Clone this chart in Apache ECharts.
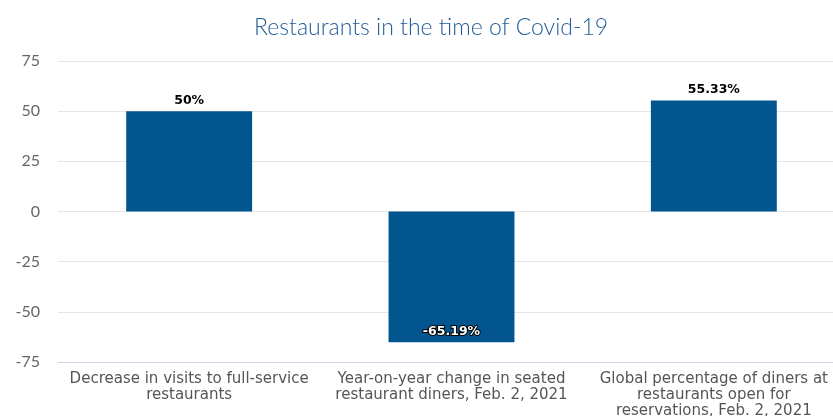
<!DOCTYPE html>
<html>
<head>
<meta charset="utf-8">
<script src="https://cdn.jsdelivr.net/npm/echarts@6/dist/echarts.min.js"></script>
<style>
  html, body { margin: 0; padding: 0; background: #fff; }
  #chart { width: 833px; height: 416px; }
</style>
</head>
<body>
<div id="chart"></div>
<script>
// 分类 (line breaks as in the picture)
var categories = [
  "Decrease in visits to full-service\nrestaurants",
  "Year-on-year change in seated\nrestaurant diners, Feb. 2, 2021",
  "Global percentage of diners at\nrestaurants open for\nreservations, Feb. 2, 2021"
];
// 数值 (%)
var values = [50, -65.19, 55.33];
var labels = ["50%", "-65.19%", "55.33%"];
var yTicks = [-75, -50, -25, 0, 25, 50, 75];

var myChart = echarts.init(document.getElementById("chart"));

var barData = values.map(function (v, i) {
  var item = { value: v };
  if (v < 0) {
    // 负数标签在柱子底部，白字黑描边
    item.label = {
      position: "insideBottom",
      distance: 4,
      color: "#fff",
      textBorderColor: "#000",
      textBorderWidth: 2
    };
  }
  return item;
});

var option = {
  animation: false,
  title: {
    text: "Restaurants in the time of Covid-19",
    left: 249,
    top: 11,
    textStyle: {
      fontFamily: "Lato",
      fontWeight: 300,
      fontSize: 23,
      color: "#215d98"
    }
  },
  grid: {
    left: 58,
    width: 787,
    top: 61,
    bottom: 54,
    outerBoundsMode: "none"
  },
  xAxis: {
    type: "category",
    data: categories,
    axisTick: { show: false },
    axisLine: {
      show: true,
      onZero: false,
      lineStyle: { color: "#ccd6eb", width: 1 }
    },
    axisLabel: {
      interval: 0,
      margin: 9,
      fontFamily: "DejaVu Sans",
      fontSize: 15,
      lineHeight: 16,
      color: "#555"
    }
  },
  yAxis: {
    type: "value",
    min: yTicks[0],
    max: yTicks[yTicks.length - 1],
    interval: 25,
    axisLine: { show: false },
    axisTick: { show: false },
    axisLabel: {
      margin: 18,
      fontFamily: "Lato",
      fontSize: 16,
      color: "#666"
    },
    splitLine: {
      lineStyle: { color: "#e6e6e6", width: 1 }
    }
  },
  series: [
    {
      type: "bar",
      data: barData,
      barWidth: "48%",
      itemStyle: { color: "#02558f" },
      label: {
        show: true,
        position: "top",
        distance: 4,
        fontFamily: "DejaVu Sans",
        fontWeight: "bold",
        fontSize: 12.5,
        color: "#000",
        formatter: function (p) { return labels[p.dataIndex]; }
      }
    }
  ]
};

myChart.setOption(option);
</script>
</body>
</html>
